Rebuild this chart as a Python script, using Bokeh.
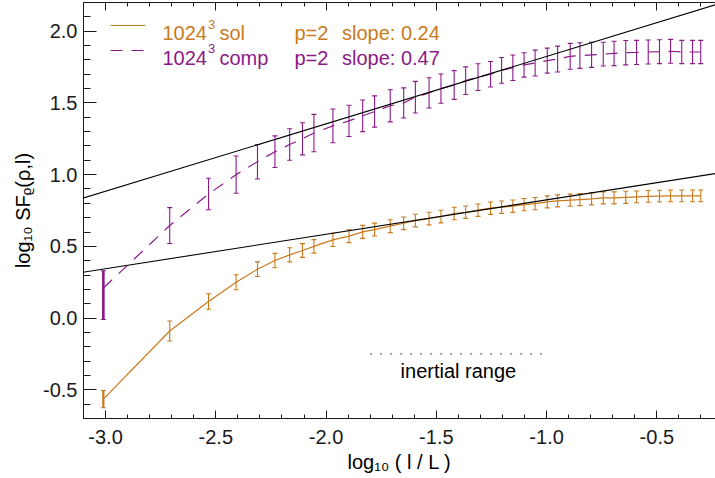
import math
from bokeh.plotting import figure
from bokeh.models import (Range1d, LinearAxis, SingleIntervalTicker, PrintfTickFormatter,
                          CustomJSTickFormatter, Whisker, TeeHead, ColumnDataSource, Slope,
                          Label, Arrow)
from bokeh.embed import file_html
from bokeh.resources import INLINE

# ---------------- data ----------------
log_l = [-3.010, -2.709, -2.533, -2.408, -2.311, -2.232, -2.165, -2.107, -2.055, -1.969,
         -1.896, -1.834, -1.780, -1.709, -1.648, -1.595, -1.533, -1.479, -1.419, -1.367,
         -1.311, -1.254, -1.204, -1.153, -1.102, -1.052, -0.997, -0.950, -0.893, -0.849,
         -0.796, -0.743, -0.694, -0.641, -0.592, -0.539, -0.488, -0.438, -0.387, -0.338,
         -0.301]

sf_sol = [-0.565, -0.090, 0.116, 0.250, 0.341, 0.401, 0.441, 0.471, 0.500, 0.545,
          0.571, 0.601, 0.617, 0.641, 0.661, 0.680, 0.694, 0.708, 0.729, 0.738,
          0.752, 0.766, 0.773, 0.780, 0.791, 0.798, 0.810, 0.817, 0.822, 0.826,
          0.831, 0.838, 0.838, 0.842, 0.845, 0.848, 0.850, 0.852, 0.852, 0.852,
          0.852]
sf_sol_err = [0.060, 0.070, 0.054, 0.052, 0.051, 0.050, 0.049, 0.048, 0.047, 0.046,
              0.045, 0.045, 0.045, 0.045, 0.044, 0.044, 0.044, 0.044, 0.044, 0.043,
              0.043, 0.043, 0.043, 0.043, 0.043, 0.043, 0.042, 0.042, 0.042, 0.042,
              0.042, 0.042, 0.042, 0.042, 0.041, 0.041, 0.041, 0.041, 0.041, 0.041,
              0.041]

sf_comp = [0.210, 0.645, 0.865, 1.000, 1.090, 1.160, 1.210, 1.250, 1.290, 1.340,
           1.375, 1.410, 1.440, 1.480, 1.500, 1.540, 1.570, 1.600, 1.625, 1.655,
           1.680, 1.700, 1.727, 1.745, 1.765, 1.778, 1.795, 1.806, 1.825, 1.830,
           1.835, 1.840, 1.845, 1.850, 1.852, 1.855, 1.857, 1.860, 1.855, 1.855,
           1.855]
sf_comp_err_up = [0.120, 0.125, 0.110, 0.130, 0.120, 0.110, 0.110, 0.112, 0.130, 0.118,
                  0.109, 0.110, 0.109, 0.112, 0.105, 0.110, 0.105, 0.102, 0.100, 0.096,
                  0.093, 0.089, 0.090, 0.089, 0.085, 0.090, 0.087, 0.090, 0.090, 0.089,
                  0.087, 0.083, 0.085, 0.085, 0.084, 0.084, 0.083, 0.083, 0.081, 0.081,
                  0.081]
sf_comp_err_dn = [0.220] + sf_comp_err_up[1:]

series_names = ["sol", "comp"]
resolution = 1024
p_order = 2
fit_slopes = [0.24, 0.47]
fit_intercepts = [1.064, 2.294]

inertial_range = [-1.8, -1.0]
inertial_level = -0.25

x_ticks_interval = 0.5
y_ticks_interval = 0.5
x_title = "log\u2081\u2080 ( l / L )"
y_title = "log\u2081\u2080 SF\u1d68(\u03c1,l)"

# ---------------- style ----------------
ORANGE = "#C97A1C"
PURPLE = "#8B1A89"
FONT = "Liberation Sans"
W, H = 715, 478
FL, FB = 83, 418   # frame left / bottom in page pixels

def sx(px):
    return px - FL

def sy(py):
    return FB - py

p = figure(width=W, height=H, x_range=Range1d(-3.1, -0.234), y_range=Range1d(-0.7, 2.2),
           output_backend="svg", toolbar_location=None,
           min_border_left=FL, min_border_right=0, min_border_top=2, min_border_bottom=H - FB)
p.grid.visible = False
p.outline_line_color = None
p.background_fill_color = "white"
p.border_fill_color = "white"

AX = "#1a1a1a"
for ax in p.xaxis:
    ax.ticker = SingleIntervalTicker(interval=x_ticks_interval, num_minor_ticks=5)
    ax.formatter = PrintfTickFormatter(format="%.1f")
    ax.major_tick_in = 8; ax.major_tick_out = 0
    ax.minor_tick_in = 4; ax.minor_tick_out = 0
    ax.major_label_standoff = 11
    ax.axis_label = x_title
    ax.axis_label_standoff = 4
for ax in p.yaxis:
    ax.ticker = SingleIntervalTicker(interval=y_ticks_interval, num_minor_ticks=5)
    ax.formatter = PrintfTickFormatter(format="%.1f")
    ax.major_tick_in = 13; ax.major_tick_out = 0
    ax.minor_tick_in = 7; ax.minor_tick_out = 0
    ax.major_label_standoff = 6
    ax.axis_label = y_title
    ax.axis_label_standoff = 6
for ax in list(p.xaxis) + list(p.yaxis):
    ax.major_label_text_font = FONT
    ax.major_label_text_font_size = "20px"
    ax.major_label_text_color = AX
    ax.axis_label_text_font = FONT
    ax.axis_label_text_font_size = "20px"
    ax.axis_label_text_font_style = "normal"
    ax.axis_label_text_color = "black"
    ax.axis_line_color = AX
    ax.major_tick_line_color = AX
    ax.minor_tick_line_color = AX

top = LinearAxis(ticker=SingleIntervalTicker(interval=x_ticks_interval, num_minor_ticks=5),
                 formatter=CustomJSTickFormatter(code="return ''"),
                 major_tick_in=8, major_tick_out=0, minor_tick_in=4, minor_tick_out=0,
                 major_label_standoff=0, major_label_text_font_size="1px",
                 axis_line_color=AX, major_tick_line_color=AX, minor_tick_line_color=AX)
p.add_layout(top, "above")

# ---------------- fits ----------------
for g, b in zip(fit_slopes, fit_intercepts):
    p.add_layout(Slope(gradient=g, y_intercept=b, line_color="black", line_width=1.1))

# ---------------- series ----------------
src_sol = ColumnDataSource(dict(x=log_l, y=sf_sol,
                                lo=[v - e for v, e in zip(sf_sol, sf_sol_err)],
                                hi=[v + e for v, e in zip(sf_sol, sf_sol_err)]))
src_comp = ColumnDataSource(dict(x=log_l, y=sf_comp,
                                 lo=[v - e for v, e in zip(sf_comp, sf_comp_err_dn)],
                                 hi=[v + e for v, e in zip(sf_comp, sf_comp_err_up)]))

p.line("x", "y", source=src_sol, line_color=ORANGE, line_width=1.2)
p.line("x", "y", source=src_comp, line_color=PURPLE, line_width=1.2, line_dash="12 9")

for src, col in ((src_sol, ORANGE), (src_comp, PURPLE)):
    p.add_layout(Whisker(base="x", lower="lo", upper="hi", source=src, dimension="height",
                         line_color=col, line_width=1.1,
                         upper_head=TeeHead(size=5, line_color=col, line_width=1.1),
                         lower_head=TeeHead(size=5, line_color=col, line_width=1.1)))
# thicker first error bars
d0s = src_sol.data; d0c = src_comp.data
p.segment(x0=[d0s["x"][0]], x1=[d0s["x"][0]], y0=[d0s["lo"][0]], y1=[d0s["hi"][0]],
          line_color=ORANGE, line_width=2.2)
p.segment(x0=[d0c["x"][0]], x1=[d0c["x"][0]], y0=[d0c["lo"][0]], y1=[d0c["hi"][0]],
          line_color=PURPLE, line_width=2.6)

# inertial range
p.line(inertial_range, [inertial_level, inertial_level], line_color="#444444",
       line_width=1.0, line_dash="2 8")
p.add_layout(Label(x=sum(inertial_range) / 2, y=inertial_level, y_offset=-17,
                   text="inertial range", text_align="center", text_baseline="alphabetic",
                   text_font=FONT, text_font_size="20px", text_color="black"))

# ---------------- legend ----------------
rows = [(25, 32.5, ORANGE, None), (50, 57, PURPLE, "12 9")]
for (ly, by, col, dash), name, slope in zip(rows, series_names, fit_slopes):
    arr = Arrow(x_start=sx(110), y_start=sy(ly), x_end=sx(145), y_end=sy(ly),
                start_units="screen", end_units="screen", end=None, start=None,
                line_color=col, line_width=1.2)
    if dash:
        arr.line_dash = dash
    p.add_layout(arr)
    for txt, x0, yb, fs in ((str(resolution), 162, by, "20px"), ("3", 207.5, by - 9, "13px"),
                            (name, 219, by, "20px"), (f"p={p_order}", 294, by, "20px"),
                            (f"slope: {slope:.2f}", 341.5, by, "20px")):
        p.add_layout(Label(x=sx(x0), y=sy(yb), x_units="screen", y_units="screen", text=txt,
                           text_font=FONT, text_font_size=fs, text_color=col,
                           text_baseline="alphabetic", text_align="left"))

open("out.html", "w").write(file_html(p, INLINE))
